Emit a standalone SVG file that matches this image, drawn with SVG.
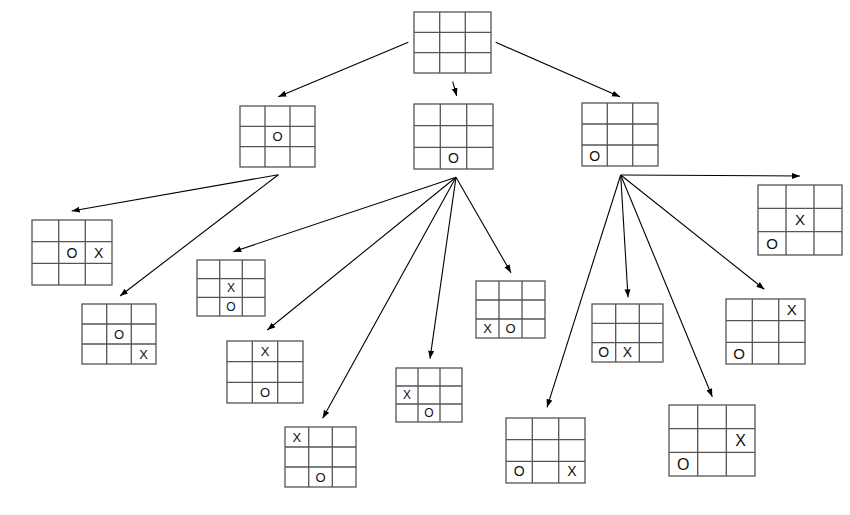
<svg xmlns="http://www.w3.org/2000/svg" width="850" height="515" viewBox="0 0 850 515">
<style>
.g{fill:#fff;stroke:#555;stroke-width:1.3}
.l{fill:none;stroke:#555;stroke-width:1.3}
.t{font-family:"Liberation Sans",Arial,sans-serif;fill:#111;text-anchor:middle}
.a{fill:none;stroke:#000;stroke-width:1.1;marker-end:url(#ah)}
</style>
<defs>
<marker id="ah" markerUnits="userSpaceOnUse" markerWidth="9" markerHeight="7" refX="8" refY="3" orient="auto">
<path d="M0,0 L8,3 L0,6 z" fill="#000"/>
</marker>
</defs>
<rect width="850" height="515" fill="#fff"/>
<g id="connectors">
<line class="a" x1="408.3" y1="42.3" x2="278.3" y2="96.7"/>
<line class="a" x1="452.7" y1="81.7" x2="456.7" y2="96"/>
<line class="a" x1="495.7" y1="42.3" x2="620" y2="96.7"/>
<line class="a" x1="278.3" y1="174.7" x2="71.7" y2="211"/>
<line class="a" x1="278.3" y1="174.7" x2="120" y2="296"/>
<line class="a" x1="456" y1="177.3" x2="233.3" y2="251.7"/>
<line class="a" x1="456" y1="177.3" x2="267.3" y2="330"/>
<line class="a" x1="456" y1="177.3" x2="322.7" y2="418.3"/>
<line class="a" x1="456" y1="177.3" x2="430" y2="358.7"/>
<line class="a" x1="456" y1="177.3" x2="511" y2="272.7"/>
<line class="a" x1="620.7" y1="175" x2="547" y2="407.3"/>
<line class="a" x1="620.7" y1="175" x2="628" y2="297.3"/>
<line class="a" x1="620.7" y1="175" x2="712.3" y2="396.7"/>
<line class="a" x1="620.7" y1="175" x2="764.3" y2="289.3"/>
<line class="a" x1="620.7" y1="175" x2="800" y2="176"/>
</g>
<g id="root">
<rect class="g" x="414" y="12" width="77" height="61"/>
<path class="l" d="M439.7,12V73M465.3,12V73M414,32.3H491M414,52.7H491"/>
</g>
<g id="a">
<rect class="g" x="240" y="106" width="75" height="61"/>
<path class="l" d="M265,106V167M290,106V167M240,126.3H315M240,146.7H315"/>
<text class="t" x="277.5" y="141.2" font-size="13">O</text>
</g>
<g id="b">
<rect class="g" x="414" y="104" width="79" height="65"/>
<path class="l" d="M440.3,104V169M466.7,104V169M414,125.7H493M414,147.3H493"/>
<text class="t" x="453.5" y="163.2" font-size="14">O</text>
</g>
<g id="c">
<rect class="g" x="582" y="103" width="76" height="63"/>
<path class="l" d="M607.3,103V166M632.7,103V166M582,124H658M582,145H658"/>
<text class="t" x="594.7" y="160.5" font-size="14">O</text>
</g>
<g id="d">
<rect class="g" x="32" y="220" width="80" height="65"/>
<path class="l" d="M58.7,220V285M85.3,220V285M32,241.7H112M32,263.3H112"/>
<text class="t" x="72" y="257.5" font-size="14">O</text>
<text class="t" x="98.7" y="257.5" font-size="14">X</text>
</g>
<g id="e">
<rect class="g" x="82" y="304" width="74" height="60"/>
<path class="l" d="M106.7,304V364M131.3,304V364M82,324H156M82,344H156"/>
<text class="t" x="119" y="338.7" font-size="13">O</text>
<text class="t" x="143.7" y="358.7" font-size="13">X</text>
</g>
<g id="f">
<rect class="g" x="197" y="260" width="68" height="56"/>
<path class="l" d="M219.7,260V316M242.3,260V316M197,278.7H265M197,297.3H265"/>
<text class="t" x="231" y="292.3" font-size="12">X</text>
<text class="t" x="231" y="311" font-size="12">O</text>
</g>
<g id="g">
<rect class="g" x="227" y="341" width="76" height="62"/>
<path class="l" d="M252.3,341V403M277.7,341V403M227,361.7H303M227,382.3H303"/>
<text class="t" x="265" y="356" font-size="13">X</text>
<text class="t" x="265" y="397.4" font-size="13">O</text>
</g>
<g id="h">
<rect class="g" x="285" y="427" width="71" height="60"/>
<path class="l" d="M308.7,427V487M332.3,427V487M285,447H356M285,467H356"/>
<text class="t" x="296.8" y="441.7" font-size="13">X</text>
<text class="t" x="320.5" y="481.7" font-size="13">O</text>
</g>
<g id="i">
<rect class="g" x="476" y="281" width="69" height="57"/>
<path class="l" d="M499,281V338M522,281V338M476,300H545M476,319H545"/>
<text class="t" x="487.5" y="333.2" font-size="13">X</text>
<text class="t" x="510.5" y="333.2" font-size="13">O</text>
</g>
<g id="j">
<rect class="g" x="396" y="368" width="66" height="54"/>
<path class="l" d="M418,368V422M440,368V422M396,386H462M396,404H462"/>
<text class="t" x="407" y="399.3" font-size="12">X</text>
<text class="t" x="429" y="417.3" font-size="12">O</text>
</g>
<g id="k">
<rect class="g" x="592" y="304" width="71" height="58"/>
<path class="l" d="M615.7,304V362M639.3,304V362M592,323.3H663M592,342.7H663"/>
<text class="t" x="603.8" y="357.4" font-size="14">O</text>
<text class="t" x="627.5" y="357.4" font-size="14">X</text>
</g>
<g id="l">
<rect class="g" x="506" y="418" width="79" height="65"/>
<path class="l" d="M532.3,418V483M558.7,418V483M506,439.7H585M506,461.3H585"/>
<text class="t" x="519.2" y="476.2" font-size="14">O</text>
<text class="t" x="571.8" y="476.2" font-size="14">X</text>
</g>
<g id="m">
<rect class="g" x="669" y="405" width="86" height="71"/>
<path class="l" d="M697.7,405V476M726.3,405V476M669,428.7H755M669,452.3H755"/>
<text class="t" x="740.7" y="446.3" font-size="16">X</text>
<text class="t" x="683.3" y="469.9" font-size="16">O</text>
</g>
<g id="n">
<rect class="g" x="726" y="299" width="79" height="65"/>
<path class="l" d="M752.3,299V364M778.7,299V364M726,320.7H805M726,342.3H805"/>
<text class="t" x="791.8" y="315.2" font-size="15">X</text>
<text class="t" x="739.2" y="358.6" font-size="15">O</text>
</g>
<g id="p">
<rect class="g" x="758" y="185" width="84" height="70"/>
<path class="l" d="M786,185V255M814,185V255M758,208.3H842M758,231.7H842"/>
<text class="t" x="800" y="225.4" font-size="15">X</text>
<text class="t" x="772" y="248.7" font-size="15">O</text>
</g>
</svg>
